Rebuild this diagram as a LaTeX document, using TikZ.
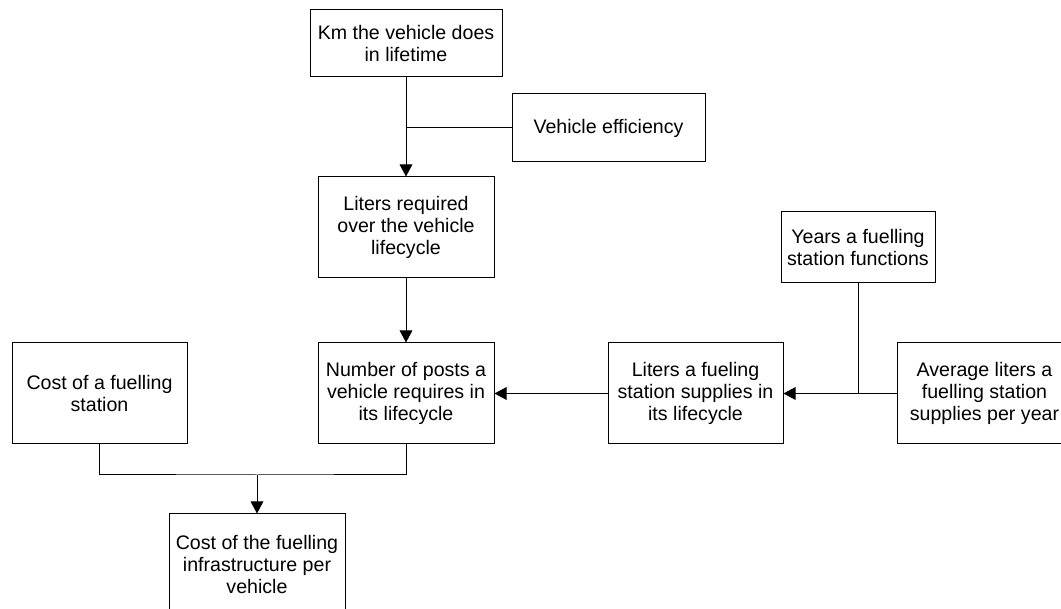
\documentclass[tikz,border=0pt]{standalone}
\usepackage{fontspec}
\setmainfont{Liberation Sans}
\usetikzlibrary{arrows.meta}
\begin{document}
\begin{tikzpicture}[x=0.75pt,y=-0.75pt,
  box/.style={draw, line width=0.75pt, align=center, inner sep=0pt,
    font=\fontsize{14.7}{16.7}\selectfont},
  link/.style={line width=0.75pt},
  arr/.style={link, -{Triangle[length=9pt,width=9.5pt]}}]
  \useasboundingbox (0,0) rectangle (1061,609);
  \clip (0,0) rectangle (1061,609);

  % model inputs and intermediate quantities
  \node[box, minimum width=192*0.75pt, minimum height=67*0.75pt] (km) at (406,43.5)
    {Km the vehicle does\\in lifetime};
  \node[box, minimum width=193*0.75pt, minimum height=68*0.75pt] (eff) at (608.5,128)
    {Vehicle efficiency};
  \node[box, minimum width=176*0.75pt, minimum height=101*0.75pt] (lit) at (406,227.5)
    {Liters required\\over the vehicle\\lifecycle};
  \node[box, minimum width=176*0.75pt, minimum height=101*0.75pt] (num) at (406,393.5)
    {Number of posts a\\vehicle requires in\\its lifecycle};
  \node[box, minimum width=175*0.75pt, minimum height=101*0.75pt] (cost) at (99.5,393.5)
    {Cost of a fuelling\\station};
  \node[box, minimum width=176*0.75pt, minimum height=101*0.75pt] (infra) at (257,564.5)
    {Cost of the fuelling\\infrastructure per\\vehicle};
  \node[box, minimum width=154*0.75pt, minimum height=71*0.75pt] (years) at (858,247.5)
    {Years a fuelling\\station functions};
  \node[box, minimum width=175*0.75pt, minimum height=101*0.75pt] (lst) at (695.5,393.5)
    {Liters a fueling\\station supplies in\\its lifecycle};
  \node[box, minimum width=175*0.75pt, minimum height=101*0.75pt] (avg) at (984.5,393.5)
    {Average liters a\\fuelling station\\supplies per year};

  % connectors
  \draw[arr] (km.south) -- (lit.north);
  \draw[link] (eff.west) -- (km.south |- eff.west);
  \draw[arr] (lit.south) -- (num.north);

  \coordinate (j1) at (257,475);
  \draw[link] (cost.south) |- (j1) -| (num.south);
  \draw[arr] (j1) -- (infra.north);

  \draw[arr] (lst.west) -- (num.east);
  \draw[arr] (avg.west) -- (lst.east);
  \draw[link] (years.south) -- (years.south |- lst.east);
\end{tikzpicture}
\end{document}
